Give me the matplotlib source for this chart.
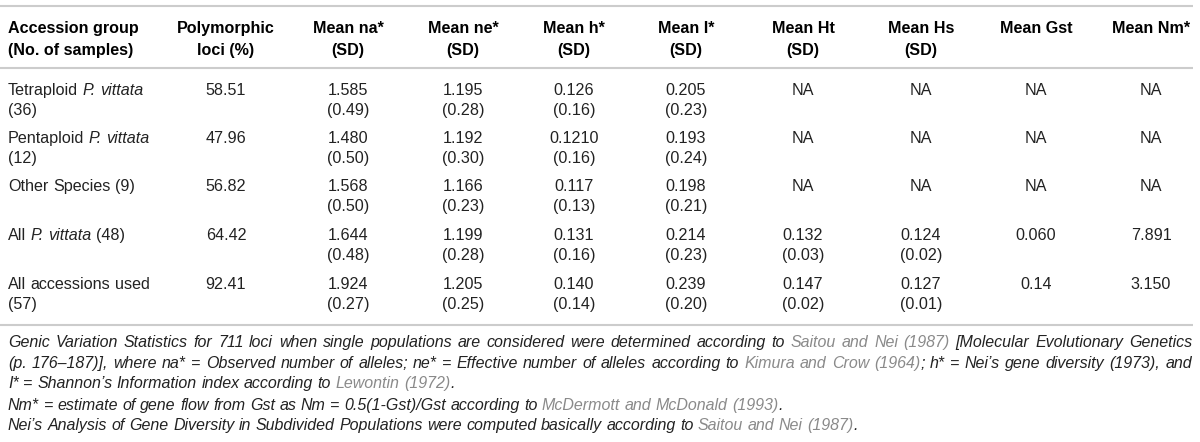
import matplotlib.pyplot as plt

plt.rcParams['font.family'] = 'Liberation Sans'

groups = ["Tetraploid P. vittata", "Pentaploid P. vittata", "Other Species",
          "All P. vittata", "All accessions used"]
counts = [36, 12, 9, 48, 57]
poly = ["58.51", "47.96", "56.82", "64.42", "92.41"]
na = ["1.585", "1.480", "1.568", "1.644", "1.924"]
na_sd = ["0.49", "0.50", "0.50", "0.48", "0.27"]
ne = ["1.195", "1.192", "1.166", "1.199", "1.205"]
ne_sd = ["0.28", "0.30", "0.23", "0.28", "0.25"]
h = ["0.126", "0.1210", "0.117", "0.131", "0.140"]
h_sd = ["0.16", "0.16", "0.13", "0.16", "0.14"]
I = ["0.205", "0.193", "0.198", "0.214", "0.239"]
I_sd = ["0.23", "0.24", "0.21", "0.23", "0.20"]
Ht = ["NA", "NA", "NA", "0.132", "0.147"]
Ht_sd = [None, None, None, "0.03", "0.02"]
Hs = ["NA", "NA", "NA", "0.124", "0.127"]
Hs_sd = [None, None, None, "0.02", "0.01"]
Gst = ["NA", "NA", "NA", "0.060", "0.14"]
Nm = ["NA", "NA", "NA", "7.891", "3.150"]

headers = [("Accession group", "(No. of samples)"), ("Polymorphic", "loci (%)"),
           ("Mean na*", "(SD)"), ("Mean ne*", "(SD)"), ("Mean h*", "(SD)"),
           ("Mean I*", "(SD)"), ("Mean Ht", "(SD)"), ("Mean Hs", "(SD)"),
           ("Mean Gst", ""), ("Mean Nm*", "")]

GRAY = '#8a8a8a'
notes = [
    [("Genic Variation Statistics for 711 loci when single populations are considered were determined according to ", None),
     ("Saitou and Nei (1987)", GRAY), (" [Molecular Evolutionary Genetics", None)],
    [("(p. 176\u2013187)], where na* = Observed number of alleles; ne* = Effective number of alleles according to ", None),
     ("Kimura and Crow (1964)", GRAY), ("; h* = Nei\u2019s gene diversity (1973), and", None)],
    [("I* = Shannon\u2019s Information index according to ", None), ("Lewontin (1972)", GRAY), (".", None)],
    [("Nm* = estimate of gene flow from Gst as Nm = 0.5(1-Gst)/Gst according to ", None),
     ("McDermott and McDonald (1993)", GRAY), (".", None)],
    [("Nei\u2019s Analysis of Gene Diversity in Subdivided Populations were computed basically according to ", None),
     ("Saitou and Nei (1987)", GRAY), (".", None)],
]
justify = [True, True, False, False, False]

TXT = '#222222'
FS = 11.6
FS_NOTE = 11.5

fig = plt.figure(figsize=(12, 4.42), dpi=100)
ax = fig.add_axes([0, 0, 1, 1])
ax.set_xlim(0, 1200)
ax.set_ylim(442, 0)
ax.axis('off')
renderer = fig.canvas.get_renderer()


def width(s, fs, style='normal'):
    t = ax.text(0, 0, s, fontsize=fs, style=style)
    w = t.get_window_extent(renderer).width
    t.remove()
    return w


def draw_runs(x0, y, runs, fs, target=None):
    # runs: list of (text, color, style); spaces become stretchable gaps
    items = []
    for s, c, st in runs:
        parts = s.split(' ')
        for i, p in enumerate(parts):
            if i > 0:
                items.append((None, c, st))
            if p:
                items.append((p, c, st))
    widths = []
    for s, c, st in items:
        if s is None:
            widths.append(width('a a', fs, st) - width('aa', fs, st))
        else:
            widths.append(width(s, fs, st))
    nsp = sum(1 for it in items if it[0] is None)
    extra = 0
    if target and nsp:
        extra = (target - sum(widths)) / nsp
    x = x0
    for (s, c, st), w in zip(items, widths):
        if s is None:
            x += w + extra
            continue
        ax.text(x, y, s, color=c, style=st, fontsize=fs, va='baseline', ha='left')
        x += w


def label_runs(s):
    if 'P. vittata' in s:
        a, b = s.split('P. vittata')
        return [(a, TXT, 'normal'), ('P. vittata', TXT, 'italic'), (b, TXT, 'normal')]
    return [(s, TXT, 'normal')]


# rule lines
for yl in (6, 68, 325):
    ax.plot([0, 1193], [yl, yl], color='#cccccc', lw=1.5, solid_capstyle='butt')

x_left = 8
col_x = [226, 348, 463, 574, 686, 803, 921, 1036, 1151]
off = 5.6  # baseline below visual centre

# header
for j, (l1, l2) in enumerate(headers):
    if j == 0:
        ax.text(x_left, 27 + off, l1, fontsize=FS, weight='bold', color='black', va='baseline')
        ax.text(x_left, 49 + off, l2, fontsize=FS, weight='bold', color='black', va='baseline')
    else:
        xc = col_x[j - 1]
        ax.text(xc, 27 + off, l1, fontsize=FS, weight='bold', color='black', va='baseline', ha='center')
        if l2:
            ax.text(xc, 49 + off, l2, fontsize=FS, weight='bold', color='black', va='baseline', ha='center')

row_y = [89, 137, 185, 234, 283]
wrap = [True, True, False, False, True]
dy = 20.5
cols = [(poly, None), (na, na_sd), (ne, ne_sd), (h, h_sd), (I, I_sd),
        (Ht, Ht_sd), (Hs, Hs_sd), (Gst, None), (Nm, None)]

for i, g in enumerate(groups):
    y = row_y[i]
    if wrap[i]:
        draw_runs(x_left, y + off, label_runs(g), FS)
        draw_runs(x_left, y + dy + off, label_runs('(%d)' % counts[i]), FS)
    else:
        draw_runs(x_left, y + off, label_runs('%s (%d)' % (g, counts[i])), FS)
    for j, (vals, sds) in enumerate(cols):
        ax.text(col_x[j], y + off, vals[i], fontsize=FS, color=TXT, va='baseline', ha='center')
        if sds is not None and sds[i] is not None:
            ax.text(col_x[j], y + dy + off, '(%s)' % sds[i], fontsize=FS, color=TXT,
                    va='baseline', ha='center')

note_y = [342, 363, 383, 405, 425]
for k, line in enumerate(notes):
    runs = [(s, c if c else TXT, 'italic') for s, c in line]
    draw_runs(x_left, note_y[k] + 5.4, runs, FS_NOTE,
              target=(1192 - x_left) if justify[k] else None)

fig.savefig('out.png', dpi=100)
